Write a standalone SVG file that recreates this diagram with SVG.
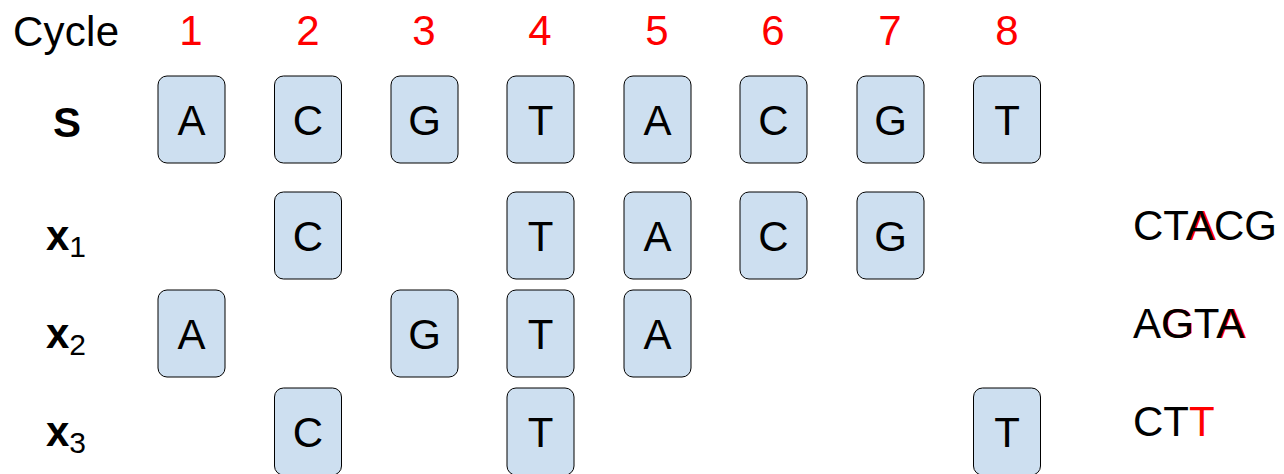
<svg xmlns="http://www.w3.org/2000/svg" width="1284" height="474" viewBox="0 0 1284 474">
<style>
text{font-family:"Liberation Sans",Arial,sans-serif;font-size:42px}
.num{fill:#ff0000;text-anchor:middle}
.lbl{text-anchor:middle;font-weight:bold}
.box rect{fill:#cddff0;stroke:#000;stroke-width:1}
.box text{text-anchor:middle}
.red{fill:#ff0000}
.sub{font-size:30px;font-weight:normal}
</style>
<rect width="1284" height="474" fill="#fff"/>
<g id="header">
<text x="13" y="46" textLength="106">Cycle</text>
<text class="num" x="191" y="45">1</text>
<text class="num" x="308" y="45">2</text>
<text class="num" x="424" y="45">3</text>
<text class="num" x="540" y="45">4</text>
<text class="num" x="657" y="45">5</text>
<text class="num" x="773" y="45">6</text>
<text class="num" x="890" y="45">7</text>
<text class="num" x="1007" y="45">8</text>
</g>
<g id="labels">
<text class="lbl" x="67" y="137">S</text>
<text x="46" y="250" font-weight="bold">x<tspan class="sub" dy="7">1</tspan></text>
<text x="46" y="348" font-weight="bold">x<tspan class="sub" dy="7">2</tspan></text>
<text x="46" y="446" font-weight="bold">x<tspan class="sub" dy="7">3</tspan></text>
</g>
<g id="row-S">
<g class="box" id="s1"><rect x="158" y="76" width="67" height="87" rx="9"/><text x="191.5" y="135">A</text></g>
<g class="box" id="s2"><rect x="274.5" y="76" width="67" height="87" rx="9"/><text x="308" y="135">C</text></g>
<g class="box" id="s3"><rect x="391" y="76" width="67" height="87" rx="9"/><text x="424.5" y="135">G</text></g>
<g class="box" id="s4"><rect x="507" y="76" width="67" height="87" rx="9"/><text x="540.5" y="135">T</text></g>
<g class="box" id="s5"><rect x="624" y="76" width="67" height="87" rx="9"/><text x="657.5" y="135">A</text></g>
<g class="box" id="s6"><rect x="740" y="76" width="67" height="87" rx="9"/><text x="773.5" y="135">C</text></g>
<g class="box" id="s7"><rect x="857" y="76" width="67" height="87" rx="9"/><text x="890.5" y="135">G</text></g>
<g class="box" id="s8"><rect x="973.5" y="76" width="67" height="87" rx="9"/><text x="1007" y="135">T</text></g>
</g>
<g id="row-x1">
<g class="box" id="x1c2"><rect x="274.5" y="192" width="67" height="87" rx="9"/><text x="308" y="251">C</text></g>
<g class="box" id="x1c4"><rect x="507" y="192" width="67" height="87" rx="9"/><text x="540.5" y="251">T</text></g>
<g class="box" id="x1c5"><rect x="624" y="192" width="67" height="87" rx="9"/><text x="657.5" y="251">A</text></g>
<g class="box" id="x1c6"><rect x="740" y="192" width="67" height="87" rx="9"/><text x="773.5" y="251">C</text></g>
<g class="box" id="x1c7"><rect x="857" y="192" width="67" height="87" rx="9"/><text x="890.5" y="251">G</text></g>
</g>
<g id="row-x2">
<g class="box" id="x2c1"><rect x="158" y="290" width="67" height="87" rx="9"/><text x="191.5" y="349">A</text></g>
<g class="box" id="x2c3"><rect x="391" y="290" width="67" height="87" rx="9"/><text x="424.5" y="349">G</text></g>
<g class="box" id="x2c4"><rect x="507" y="290" width="67" height="87" rx="9"/><text x="540.5" y="349">T</text></g>
<g class="box" id="x2c5"><rect x="624" y="290" width="67" height="87" rx="9"/><text x="657.5" y="349">A</text></g>
</g>
<g id="row-x3">
<g class="box" id="x3c2"><rect x="274.5" y="388" width="67" height="87" rx="9"/><text x="308" y="447">C</text></g>
<g class="box" id="x3c4"><rect x="507" y="388" width="67" height="87" rx="9"/><text x="540.5" y="447">T</text></g>
<g class="box" id="x3c8"><rect x="973.5" y="388" width="67" height="87" rx="9"/><text x="1007" y="447">T</text></g>
</g>
<g id="sequences">
<text class="red" x="1188" y="240">A</text>
<text x="1133" y="240">CTACG</text>
<text class="red" x="1162" y="338">G</text>
<text class="red" x="1218" y="338">A</text>
<text x="1133" y="338">AGTA</text>
<text x="1133" y="436">CT<tspan class="red">T</tspan></text>
</g>
<g id="connectors"/>
</svg>
